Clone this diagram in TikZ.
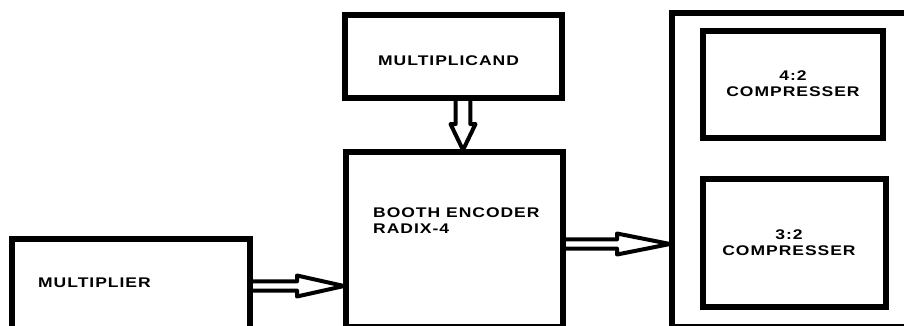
\documentclass[tikz,border=0pt]{standalone}
\usepackage{fontspec}
\newfontfamily\blkfont{Liberation Sans}[FakeStretch=1.25, LetterSpace=7]
\usetikzlibrary{calc}

\begin{document}
\begin{tikzpicture}[x=1pt, y=-1pt,
		blk/.style={draw, line width=5.5pt, outer sep=0pt, inner sep=0pt},
		pipe/.style={draw, line width=4pt, line join=round},
		lbl/.style={inner sep=0pt, font=\blkfont\bfseries\fontsize{14}{16}\selectfont}]
		\useasboundingbox (0,0) rectangle (904,325);

		\begin{scope}
			\node [blk, minimum width=238pt, minimum height=93pt] (mplier) at (131,285.5) {};
			\node [blk, minimum width=217pt, minimum height=83pt] (mcand) at (453.5,56.5) {};
			\node [blk, minimum width=217pt, minimum height=175pt] (booth) at (454.5,239.5) {};
			\node [blk, minimum width=258pt, minimum height=314pt] (tree) at (801,170) {};
			\node [blk, minimum width=180pt, minimum height=107pt] (comp42) at (793,84.5) {};
			\node [blk, minimum width=183pt, minimum height=128pt] (comp32) at (794.5,243) {};
		\end{scope}

		\begin{scope}
			\coordinate (p0) at (mplier.east |- 0,286);
			\coordinate (p1) at (booth.west |- 0,286);
			\draw [pipe] ($ (p0) + (0,-4.6) $) -- ($ (p1) + (-49,-4.6) $) -- ($ (p1) + (-49,-10.5) $) -- ($ (p1) + (-2,0) $)
				-- ($ (p1) + (-49,10.5) $) -- ($ (p1) + (-49,4.6) $) -- ($ (p0) + (0,4.6) $);

			\coordinate (q0) at (463,0 |- mcand.south);
			\coordinate (q1) at (463,0 |- booth.north);
			\draw [pipe] ($ (q0) + (-7.3,0) $) -- ($ (q1) + (-7.3,-28) $) -- ($ (q1) + (-12.5,-28) $) -- ($ (q1) + (0,-2) $)
				-- ($ (q1) + (12.5,-28) $) -- ($ (q1) + (7.3,-28) $) -- ($ (q0) + (7.3,0) $);

			\coordinate (r0) at (booth.east |- 0,244);
			\coordinate (r1) at (tree.west |- 0,244);
			\draw [pipe] ($ (r0) + (0,-4.6) $) -- ($ (r1) + (-55,-4.6) $) -- ($ (r1) + (-55,-10.5) $) -- ($ (r1) + (-2,0) $)
				-- ($ (r1) + (-55,10.5) $) -- ($ (r1) + (-55,4.6) $) -- ($ (r0) + (0,4.6) $);
		\end{scope}

		\begin{scope}
			\node [lbl, anchor=base west] (tmplier) at (38,287) {MULTIPLIER};
			\node [lbl, anchor=base west] (tmcand) at (378,65) {MULTIPLICAND};
			\node [lbl, anchor=north west, align=left] (tbooth) at (373,208) {BOOTH ENCODER\\RADIX-4};
			\node [lbl, anchor=north, align=center] (t42) at (793,71) {4:2\\COMPRESSER};
			\node [lbl, anchor=north, align=center] (t32) at (789,230) {3:2\\COMPRESSER};
		\end{scope}
	\end{tikzpicture}
\end{document}
